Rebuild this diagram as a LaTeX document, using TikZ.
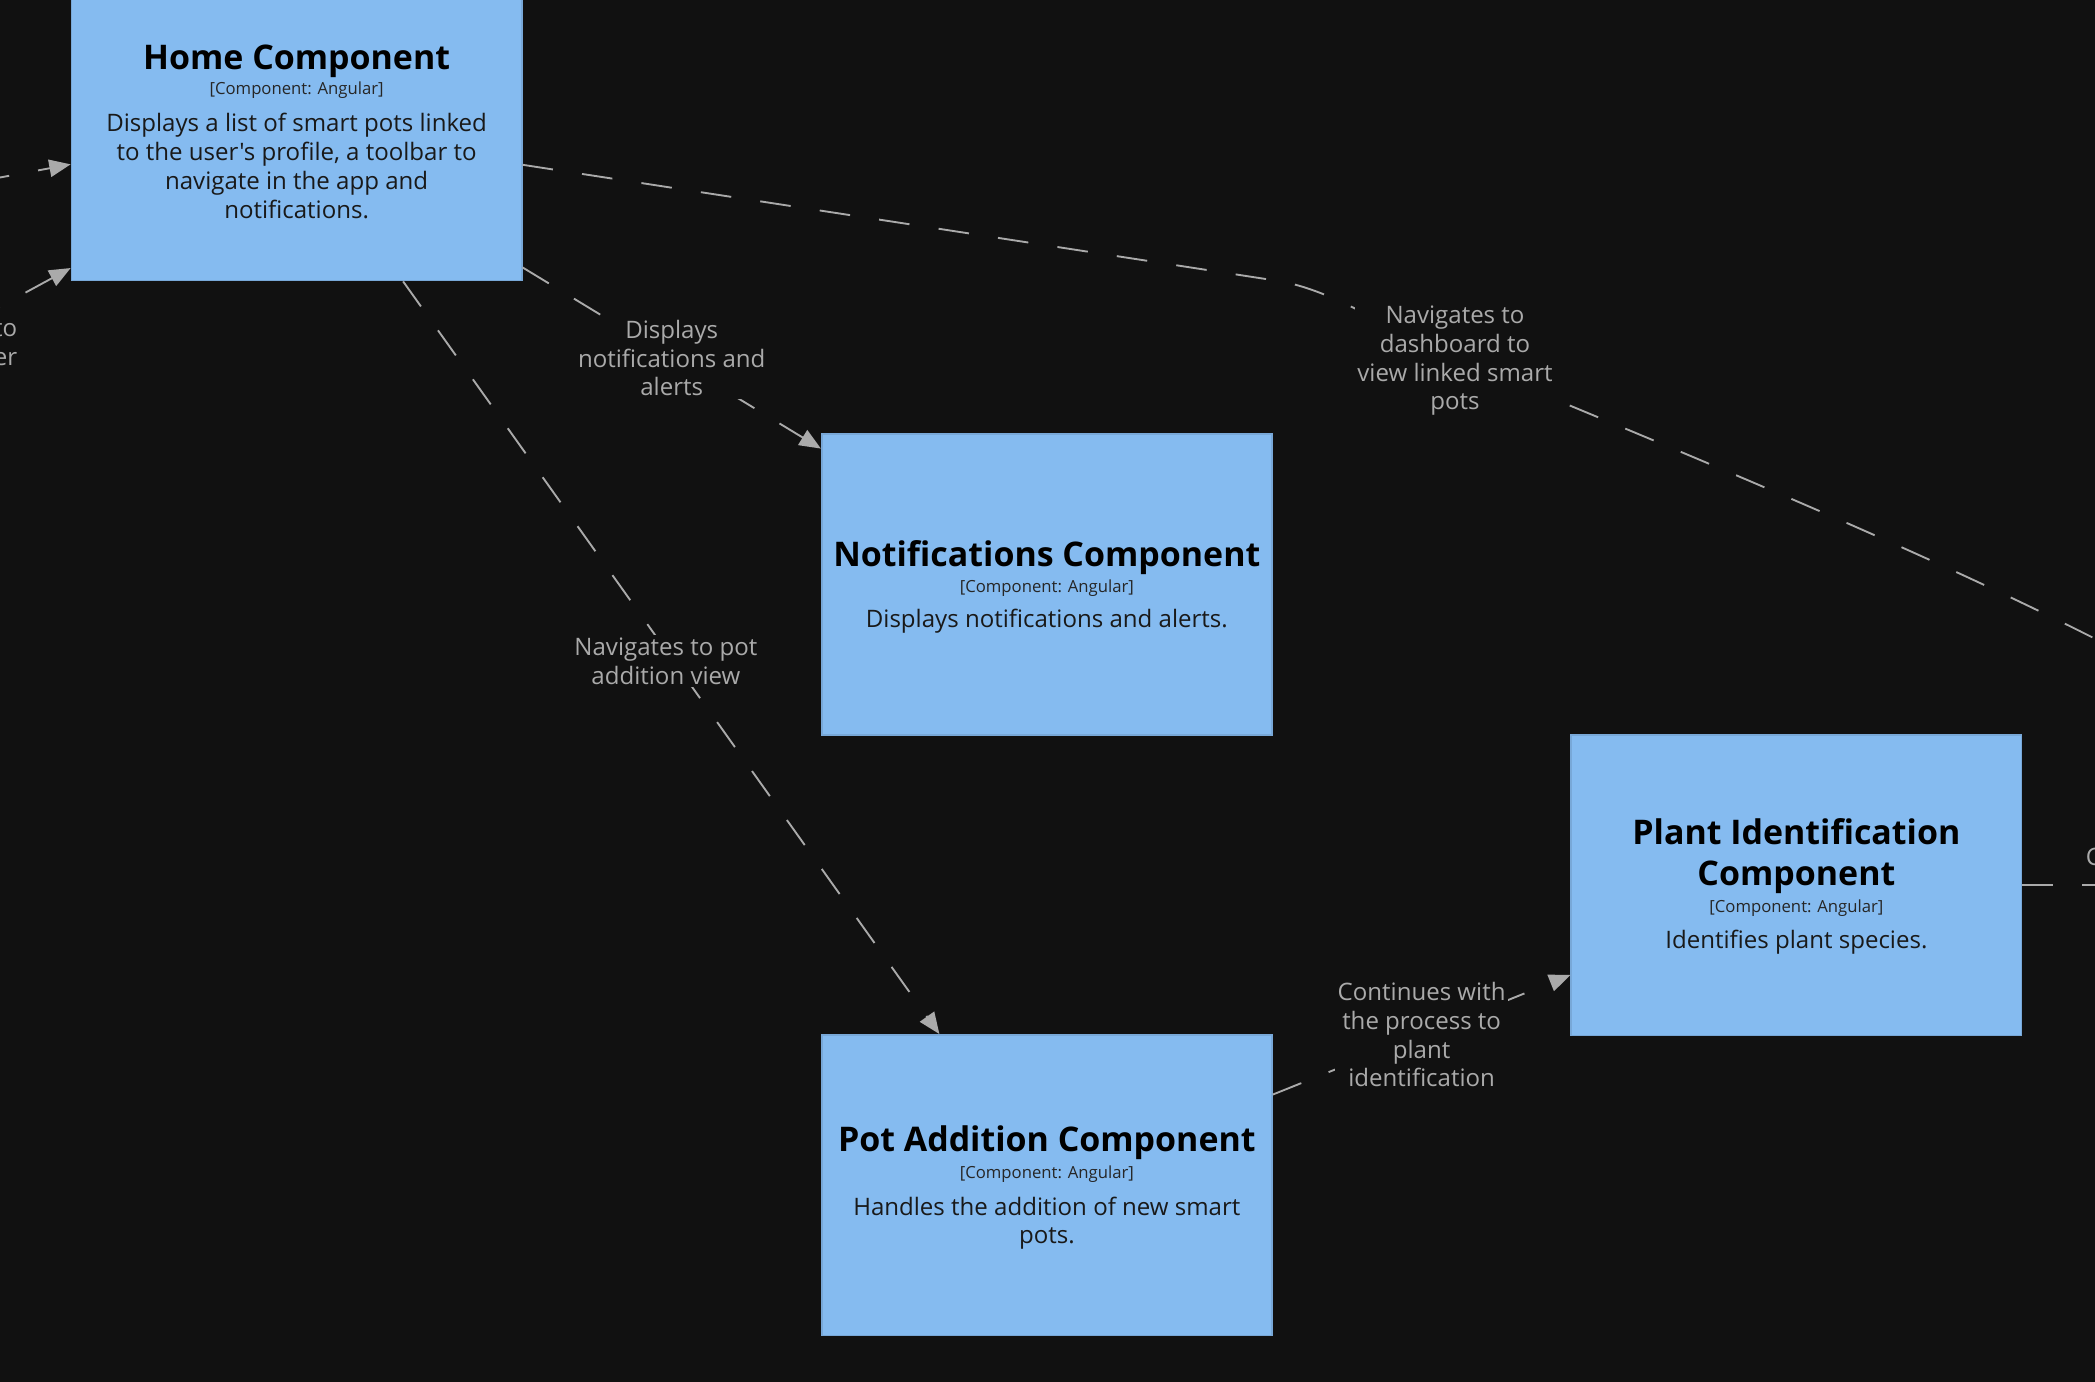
\documentclass[tikz,border=0pt]{standalone}
\usepackage{fontspec}
\setmainfont{Open Sans}[Ligatures=TeXOff]
\usetikzlibrary{arrows.meta,calc}
\definecolor{bg}{HTML}{111111}
\definecolor{boxfill}{HTML}{85BBF0}
\definecolor{boxline}{HTML}{78A8D8}
\definecolor{conn}{HTML}{AAAAAA}
\begin{document}
\begin{tikzpicture}[x=1pt,y=-1pt,
 comp/.style={draw=boxline, line width=1.2pt, fill=boxfill, minimum width=337pt, minimum height=225pt, inner sep=0pt},
 ttl/.style={font=\fontsize{25.4}{30.5}\selectfont\bfseries, text=black, align=center, inner sep=0pt},
 tech/.style={font=\fontsize{12.5}{15}\selectfont, text=black!85, inner sep=0pt},
 desc/.style={font=\fontsize{18}{21.6}\selectfont, text=black!90, align=center, inner sep=0pt},
 rel/.style={draw=conn, line width=1.4pt, dash pattern=on 23pt off 22pt, -{Triangle[length=16pt,width=13pt]}},
 lbl/.style={font=\fontsize{18}{21.5}\selectfont, text=conn, align=center, fill=bg, inner sep=2pt}
]
\fill[bg] (0,0) rectangle (1568,1034);
\useasboundingbox (0,0) rectangle (1568,1034);

% components
\node[comp] (home) at (222,97.5) {};
\node[ttl]  (homeT) at ($(home.center)+(0,-51.5)$) {Home Component};
\node[tech] (homeK) at ($(home.center)+(0,-30)$) {[Component: Angular]};
\node[desc] (homeD) at ($(home.center)+(0,26.5)$) {Displays a list of smart pots linked\\to the user's profile, a toolbar to\\navigate in the app and\\notifications.};

\node[comp] (notif) at (783.5,437.5) {};
\node[ttl]  (notifT) at ($(notif.center)+(0,-20.5)$) {Notifications Component};
\node[tech] (notifK) at ($(notif.center)+(0,2.5)$) {[Component: Angular]};
\node[desc] (notifD) at ($(notif.center)+(0,27.5)$) {Displays notifications and alerts.};

\node[comp] (pot) at (783.5,887) {};
\node[ttl]  (potT) at ($(pot.center)+(0,-32)$) {Pot Addition Component};
\node[tech] (potK) at ($(pot.center)+(0,-8)$) {[Component: Angular]};
\node[desc] (potD) at ($(pot.center)+(0,28.5)$) {Handles the addition of new smart\\pots.};

\node[comp] (plant) at (1344.5,662.5) {};
\node[ttl]  (plantT) at ($(plant.center)+(0,-21.5)$) {Plant Identification\\Component};
\node[tech] (plantK) at ($(plant.center)+(0,17.5)$) {[Component: Angular]};
\node[desc] (plantD) at ($(plant.center)+(0,42.5)$) {Identifies plant species.};

% free ends
\coordinate (inA) at (-60,144);
\coordinate (inB) at (-60,262);
\coordinate (r1) at (955,210);
\coordinate (r2) at (1089,268);
\coordinate (r3) at (1625,508);
\coordinate (outR) at (1700,662.5);

% connectors
\draw[rel] (inA) -- ($(home.west)+(0,25.5)$);
\draw[rel] (inB) -- ($(home.south west)+(0,-10)$);
\node[lbl, anchor=east, align=right] (lblL) at (15,257) {to\\er};

\draw[rel] (home) -- (notif) node[lbl, midway] (lblN) {Displays\\notifications and\\alerts};
\draw[rel] (home) -- (pot) node[lbl, pos=0.505, xshift=-6pt] (lblP) {Navigates to pot\\addition view};
\draw[rel] (pot) -- (plant) node[lbl, midway] (lblC) {Continues with\\the process to\\plant\\identification};

\draw[rel] (home) -- (r1) .. controls (1000,217) and (1040,248) .. (r2) .. controls (1300,355) and (1480,430) .. (r3);
\node[lbl] (lblD) at ($(r2)+(0,2)$) {Navigates to\\dashboard to\\view linked smart\\pots};

\draw[rel] (plant) -- (outR);
\node[lbl, anchor=west] (lblR) at (1559,641) {C};
\end{tikzpicture}
\end{document}
